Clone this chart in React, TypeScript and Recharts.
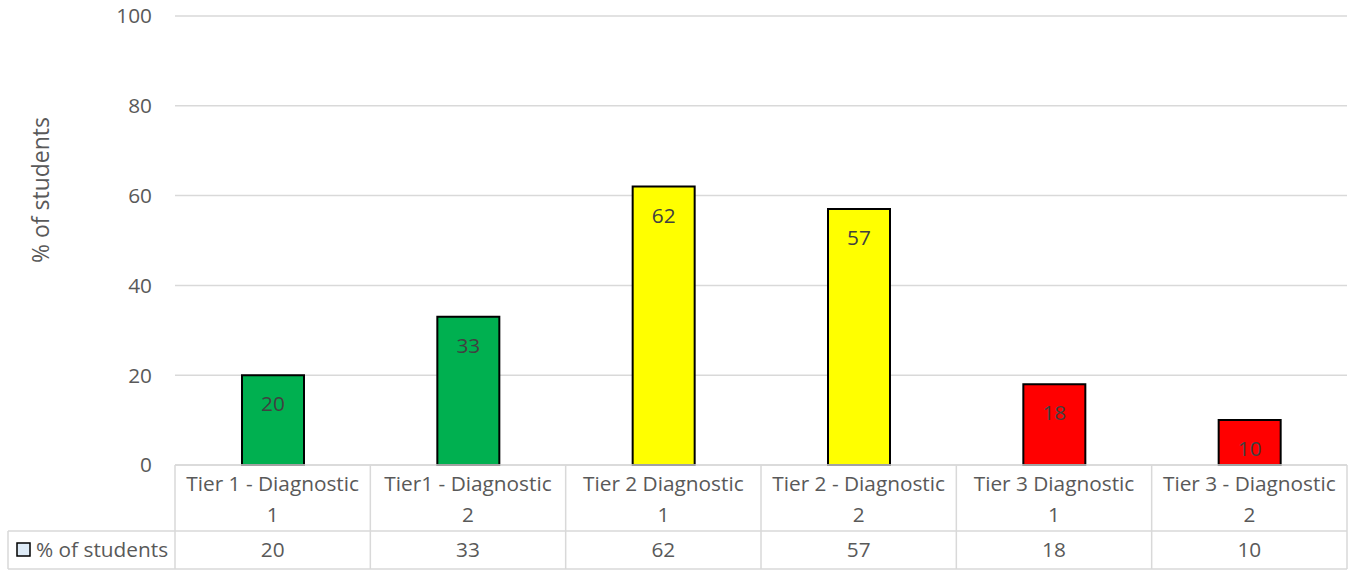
import React from "react";
import { BarChart, Bar, XAxis, YAxis, CartesianGrid, Cell, LabelList } from "recharts";

const categories = [
  "Tier 1 - Diagnostic 1",
  "Tier1 - Diagnostic 2",
  "Tier 2 Diagnostic 1",
  "Tier 2 - Diagnostic 2",
  "Tier 3 Diagnostic 1",
  "Tier 3 - Diagnostic 2",
];
const seriesName = "% of students";
const values = [20, 33, 62, 57, 18, 10];
const barColors = ["#00B050", "#00B050", "#FFFF00", "#FFFF00", "#FF0000", "#FF0000"];
const yTicks = [0, 20, 40, 60, 80, 100];

const data = categories.map((c, i) => ({ category: c, value: values[i] }));

const W = 1352;
const H = 571;
const PLOT_LEFT = 175;
const PLOT_RIGHT = 1347;
const PLOT_TOP = 16;
const PLOT_BOTTOM = 465;
const ROW1_BOTTOM = 531;
const ROW2_BOTTOM = 569;
const TABLE_LEFT = 8;
const CELL_W = (PLOT_RIGHT - PLOT_LEFT) / categories.length;
const FONT = "'Open Sans', 'Liberation Sans', sans-serif";
const TEXT = "#595959";
const BORDER = "#D9D9D9";
const FS = 20.8;
const TITLE_FS = 23;

const TableTick = (props: any) => {
  const { x, payload, index } = props;
  const label: string = String(payload.value);
  const sp = label.lastIndexOf(" ");
  const l1 = label.slice(0, sp);
  const l2 = label.slice(sp + 1);
  const left = x - CELL_W / 2;
  const right = x + CELL_W / 2;
  return (
    <g>
      {index === 0 && (
        <g>
          <line x1={left} y1={PLOT_BOTTOM} x2={left} y2={ROW2_BOTTOM} stroke={BORDER} strokeWidth={1.5} />
          <line x1={TABLE_LEFT} y1={ROW1_BOTTOM} x2={PLOT_RIGHT} y2={ROW1_BOTTOM} stroke={BORDER} strokeWidth={1.5} />
          <line x1={TABLE_LEFT} y1={ROW2_BOTTOM} x2={PLOT_RIGHT} y2={ROW2_BOTTOM} stroke={BORDER} strokeWidth={1.5} />
          <line x1={TABLE_LEFT} y1={ROW1_BOTTOM} x2={TABLE_LEFT} y2={ROW2_BOTTOM} stroke={BORDER} strokeWidth={1.5} />
          <rect x={17} y={543} width={13} height={13} fill="#DEEBF7" stroke="#000" strokeWidth={1.5} />
          <text x={36} y={549} fill={TEXT} fontSize={FS} fontFamily={FONT} dominantBaseline="central">
            {seriesName}
          </text>
        </g>
      )}
      <line x1={right} y1={PLOT_BOTTOM} x2={right} y2={ROW2_BOTTOM} stroke={BORDER} strokeWidth={1.5} />
      <text x={x} y={483} textAnchor="middle" dominantBaseline="central" fill={TEXT} fontSize={FS} fontFamily={FONT}>
        {l1}
      </text>
      <text x={x} y={514} textAnchor="middle" dominantBaseline="central" fill={TEXT} fontSize={FS} fontFamily={FONT}>
        {l2}
      </text>
      <text x={x} y={549} textAnchor="middle" dominantBaseline="central" fill={TEXT} fontSize={FS} fontFamily={FONT}>
        {values[index]}
      </text>
    </g>
  );
};

const BarValueLabel = (props: any) => {
  const { x, y, width, value } = props;
  return (
    <text x={x + width / 2} y={y + 28} textAnchor="middle" dominantBaseline="central" fill="#404040" fontSize={FS} fontFamily={FONT}>
      {value}
    </text>
  );
};

const YTitle = () => (
  <text
    x={40}
    y={190}
    transform="rotate(-90 40 190)"
    textAnchor="middle"
    dominantBaseline="central"
    fill={TEXT}
    fontSize={TITLE_FS}
    fontFamily={FONT}
  >
    {seriesName}
  </text>
);

export default function App() {
  return (
    <div style={{ position: "absolute", left: 0, top: 0, width: W, height: H, background: "#fff" }}>
      <BarChart
        width={W}
        height={H}
        data={data}
        margin={{ top: PLOT_TOP, right: W - PLOT_RIGHT, left: PLOT_LEFT - 60, bottom: 2 }}
      >
        <CartesianGrid vertical={false} stroke={BORDER} strokeWidth={1.5} />
        <XAxis
          dataKey="category"
          height={H - PLOT_BOTTOM - 2}
          tickLine={false}
          axisLine={{ stroke: BORDER, strokeWidth: 1.5 }}
          tick={<TableTick />}
          interval={0}
        />
        <YAxis
          width={60}
          domain={[0, 100]}
          ticks={yTicks}
          tickLine={false}
          axisLine={false}
          tickMargin={17}
          tick={{ fill: TEXT, fontSize: FS, fontFamily: FONT }}
          label={<YTitle />}
        />
        <Bar dataKey="value" barSize={62} stroke="#000" strokeWidth={2} isAnimationActive={false}>
          {data.map((d, i) => (
            <Cell key={d.category} fill={barColors[i]} />
          ))}
          <LabelList dataKey="value" content={<BarValueLabel />} />
        </Bar>
      </BarChart>
    </div>
  );
}
